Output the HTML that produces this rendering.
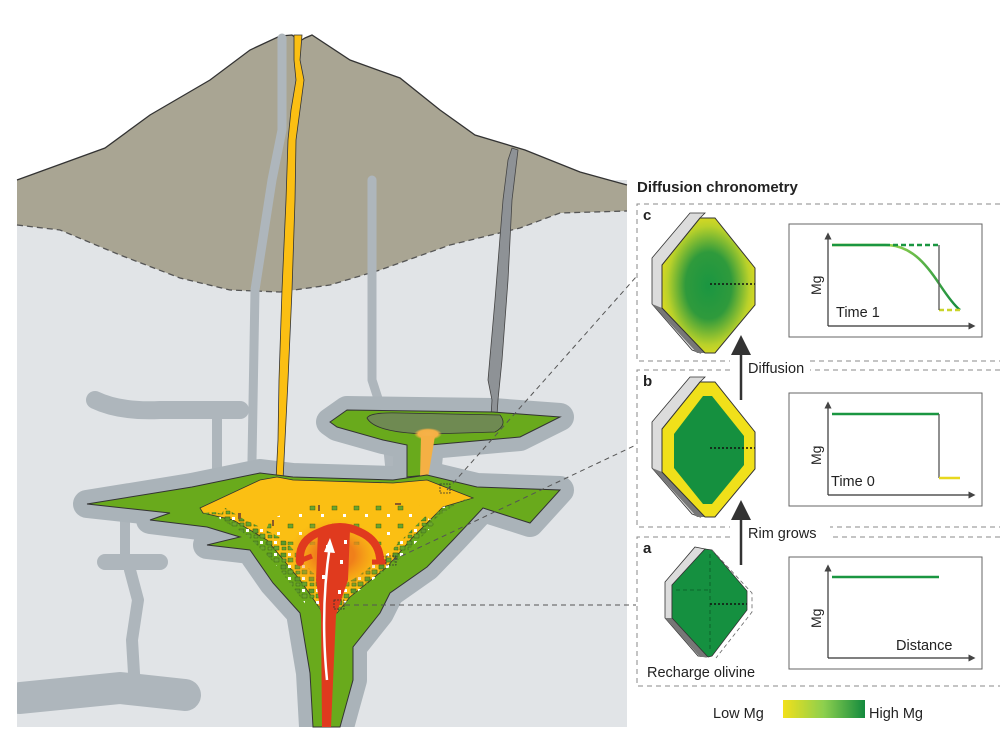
<!DOCTYPE html>
<html><head><meta charset="utf-8"><style>
html,body{margin:0;padding:0;background:#fff}
svg{display:block}
text{font-family:"Liberation Sans",sans-serif}
</style></head><body>
<svg width="1000" height="738" viewBox="0 0 1000 738" xmlns="http://www.w3.org/2000/svg">
<defs>
<radialGradient id="cg" cx="0.5" cy="0.5" r="0.55">
<stop offset="0" stop-color="#1a9641"/><stop offset="0.45" stop-color="#2f9a3c"/><stop offset="0.8" stop-color="#b9d12a"/><stop offset="1" stop-color="#e8dc1e"/></radialGradient>
<linearGradient id="lg" x1="0" x2="1"><stop offset="0" stop-color="#f2e01a"/><stop offset="0.5" stop-color="#8ccf4e"/><stop offset="1" stop-color="#138a3e"/></linearGradient>
<radialGradient id="og" cx="0.5" cy="0.5" r="0.5"><stop offset="0" stop-color="#f6b24a"/><stop offset="0.7" stop-color="#f5b044"/><stop offset="1" stop-color="#f5b044" stop-opacity="0"/></radialGradient>
<radialGradient id="rg" cx="0.5" cy="0.5" r="0.5"><stop offset="0.4" stop-color="#f0801a"/><stop offset="1" stop-color="#f5a01a" stop-opacity="0"/></radialGradient>
<pattern id="xt" width="14" height="12" patternUnits="userSpaceOnUse">
<rect x="1" y="1" width="5" height="4" fill="#5e9a2a" stroke="#2c5010" stroke-width="0.4"/>
<rect x="8" y="6" width="5" height="4" fill="#6aa52c" stroke="#2c5010" stroke-width="0.4"/>
<rect x="8" y="1" width="3" height="3" fill="#fff"/>
<rect x="2" y="7" width="4" height="3" fill="#6aa52c" stroke="#2c5010" stroke-width="0.4"/>
</pattern>
<pattern id="xs" width="22" height="18" patternUnits="userSpaceOnUse">
<rect x="2" y="2" width="5" height="4" fill="#6aa52c" stroke="#2c5010" stroke-width="0.4"/>
<rect x="13" y="10" width="3" height="3" fill="#fff"/>
</pattern>
<marker id="ah" markerWidth="8" markerHeight="8" refX="4" refY="4" orient="auto"><path d="M0,0 L8,4 L0,8 z" fill="#333"/></marker>
<marker id="ah2" markerWidth="6" markerHeight="6" refX="3" refY="3" orient="auto"><path d="M0,0 L6,3 L0,6 z" fill="#444"/></marker>
</defs>

<rect x="17" y="180" width="610" height="547" fill="#e1e4e7"/>
<path d="M17,180 L105,148 L150,115 L210,80 L250,50 L280,36 L292,35 L300,41 L305,38 L312,35 L350,60 L400,78 L440,110 L475,135 L525,150 L580,172 L627,185 L627,211 L560,213 L520,228 L450,245 L380,270 L330,285 L280,292 L230,290 L180,278 L120,255 L60,230 L17,225 Z" fill="#a9a593" stroke="none"/>
<path d="M17,180 L105,148 L150,115 L210,80 L250,50 L280,36 L292,35 L300,41 L305,38 L312,35 L350,60 L400,78 L440,110 L475,135 L525,150 L580,172 L627,185" fill="none" stroke="#333" stroke-width="1.3"/>
<path d="M17,225 L60,230 L120,255 L180,278 L230,290 L280,292 L330,285 L380,270 L450,245 L520,228 L560,213 L627,211" fill="none" stroke="#555" stroke-width="1.3" stroke-dasharray="6,4"/>

<g fill="none" stroke="#aeb6bc" stroke-linecap="round" stroke-linejoin="round">
<path d="M282,38 L282,130 L272,180 L255,290 L252,460 L255,500" stroke-width="9"/>
<path d="M372,180 L372,380 L385,420 L390,470" stroke-width="9"/>
<path d="M95,400 Q120,412 160,410 L240,410" stroke-width="18"/>
<path d="M217,413 L217,470" stroke-width="10"/>
<path d="M125,520 L125,565" stroke-width="10"/>
<path d="M105,562 L160,562" stroke-width="16"/>
<path d="M130,570 L138,600 L132,640 L135,690" stroke-width="12"/>
<path d="M20,698 L120,688 L185,695" stroke-width="32"/>
</g>
<path d="M330,422 L347,410 L493,412 L560,417 L540,427 L520,437 L430,445 L427,475 L407,477 L407,445 L383,440 L337,427 Z" fill="#aab3b9" stroke="#aab3b9" stroke-width="28" stroke-linejoin="round"/>
<path d="M87,504 L192,487 L260,473 L293,477 L393,480 L427,475 L477,487 L560,490 L530,523 L483,508 L453,540 L427,567 L390,593 L380,613 L353,647 L353,680 L340,727 L313,727 L310,673 L300,613 L273,583 L250,550 L207,545 L240,537 L207,527 L150,520 L170,513 Z" fill="#aab3b9" stroke="#aab3b9" stroke-width="28" stroke-linejoin="round"/>
<rect x="0" y="727" width="627" height="11" fill="#fff"/>
<rect x="0" y="380" width="17" height="358" fill="#fff"/>

<path d="M294,35 L302,35 L300,60 L304,80 L300,110 L296,140 L295,200 L292,290 L288,380 L285,440 L283,480 L276,480 L278,440 L279,380 L282,290 L286,200 L288,140 L291,110 L296,80 L294,60 Z" fill="#fbbf13" stroke="#333" stroke-width="0.8"/>
<path d="M512,148 L518,150 L512,200 L508,280 L502,360 L498,400 L496,430 L490,432 L492,400 L488,380 L495,300 L503,200 L508,160 Z" fill="#8e9296" stroke="#444" stroke-width="0.8"/>

<path d="M330,422 L347,410 L493,412 L560,417 L540,427 L520,437 L430,445 L427,475 L407,477 L407,445 L383,440 L337,427 Z" fill="#69aa1c" stroke="#333" stroke-width="1"/>
<path d="M367,418 Q370,412 400,413 L500,415 Q508,425 495,432 L430,434 Q375,433 367,418 Z" fill="#6f8a52" stroke="#333" stroke-width="0.8"/>
<ellipse cx="428" cy="434" rx="14" ry="6" fill="url(#og)"/>
<path d="M421,436 L435,436 L428,478 L420,478 Z" fill="#f5b044"/>

<path d="M87,504 L192,487 L260,473 L293,477 L393,480 L427,475 L477,487 L560,490 L530,523 L483,508 L453,540 L427,567 L390,593 L380,613 L353,647 L353,680 L340,727 L313,727 L310,673 L300,613 L273,583 L250,550 L207,545 L240,537 L207,527 L150,520 L170,513 Z" fill="#69aa1c" stroke="#333" stroke-width="1"/>
<path d="M200,508 L260,480 L277,477 L293,480 L393,483 L427,480 L473,498 L443,507 L413,537 L387,567 L350,597 L337,613 L323,613 L300,580 L267,540 L233,520 L203,513 Z" fill="#fbbf13" stroke="#333" stroke-width="0.8"/>
<!-- sparse crystals -->
<path d="M270,520 Q330,490 420,505 L400,545 L260,545 Z" fill="url(#xs)"/>
<!-- crystal mush band -->
<path d="M203,513 L233,520 L267,540 L300,580 L323,613 L337,613 L350,597 L387,567 L413,537 L443,507 L473,498 L462,500 L440,515 L400,548 L360,575 L335,590 L312,572 L285,540 L250,522 L215,512 Z" fill="url(#xt)"/>
<path d="M222,513 L250,530 L280,560 L310,600 M350,590 L395,555 L430,520" fill="none" stroke="url(#xt)" stroke-width="12"/>
<!-- red plume -->
<ellipse cx="335" cy="555" rx="48" ry="36" fill="url(#rg)"/>
<path d="M300,562 Q298,540 320,532 Q340,522 360,532 Q378,540 380,558" fill="none" stroke="#e03a1e" stroke-width="8" stroke-linecap="round"/>
<path d="M318,532 L350,530 L348,580 L336,615 L331,727 L322,727 L321,615 L316,580 Z" fill="#e03a1e"/>
<path d="M302,560 L312,556 M372,562 L386,562" stroke="#e03a1e" stroke-width="5"/>
<g fill="#fff"><rect x="326" y="545" width="3" height="4"/><rect x="340" y="560" width="3" height="4"/><rect x="322" y="575" width="3" height="4"/><rect x="338" y="590" width="3" height="4"/><rect x="344" y="540" width="3" height="4"/></g>
<path d="M327,680 Q320,610 330,545" fill="none" stroke="#fff" stroke-width="2.5"/>
<path d="M324,552 L330,538 L335,553 Z" fill="#fff"/>
<g fill="#8a5a2a"><rect x="272" y="520" width="2" height="6"/><rect x="318" y="505" width="2" height="6"/><rect x="395" y="503" width="6" height="2"/><rect x="238" y="513" width="3" height="6"/></g>

<g stroke="#555" stroke-width="1" stroke-dasharray="5,4" fill="none">
<path d="M447,490 L636,277"/>
<path d="M393,560 L636,445"/>
<path d="M345,605 L636,605"/>
</g>
<rect x="440" y="484" width="10" height="9" fill="none" stroke="#333" stroke-width="0.8" stroke-dasharray="2,1"/>
<rect x="386" y="556" width="10" height="9" fill="none" stroke="#333" stroke-width="0.8" stroke-dasharray="2,1"/>
<rect x="334" y="600" width="10" height="9" fill="none" stroke="#333" stroke-width="0.8" stroke-dasharray="2,1"/>

<text x="637" y="192" font-size="15" font-weight="bold" fill="#222">Diffusion chronometry</text>
<g stroke="#888" stroke-width="1" stroke-dasharray="5,4" fill="none">
<path d="M1000,204 L637,204 L637,361 L1000,361"/>
<path d="M1000,370 L637,370 L637,527 L1000,527"/>
<path d="M1000,537 L637,537 L637,686 L1000,686"/>
</g>
<rect x="730" y="355" width="80" height="20" fill="#fff"/>
<rect x="730" y="520" width="100" height="24" fill="#fff"/>
<text x="643" y="220" font-size="15" font-weight="bold" fill="#222">c</text>
<text x="643" y="386" font-size="15" font-weight="bold" fill="#222">b</text>
<text x="643" y="553" font-size="15" font-weight="bold" fill="#222">a</text>

<g>
<path d="M690,213 L705,213 L700,218 L662,265 L662,308 L700,353 L692,350 L652,304 L652,258 Z" fill="#dcdcdc" stroke="#333" stroke-width="0.8"/>
<path d="M652,304 L662,308 L705,353 L697,353 Z" fill="#777"/>
<path d="M700,218 L715,218 L755,268 L755,305 L715,353 L705,353 L662,308 L662,265 Z" fill="url(#cg)" stroke="#333" stroke-width="1"/>
<path d="M710,284 L755,284" stroke="#111" stroke-width="1.5" stroke-dasharray="2,2"/>
</g>
<g transform="translate(0,164)">
<path d="M690,213 L705,213 L700,218 L662,265 L662,308 L700,353 L692,350 L652,304 L652,258 Z" fill="#dcdcdc" stroke="#333" stroke-width="0.8"/>
<path d="M652,304 L662,308 L705,353 L697,353 Z" fill="#777"/>
<path d="M700,218 L715,218 L755,268 L755,305 L715,353 L705,353 L662,308 L662,265 Z" fill="#f0e01a" stroke="#333" stroke-width="1"/>
<path d="M703,232 L712,232 L744,272 L744,301 L712,340 L703,340 L674,304 L674,270 Z" fill="#15903f"/>
<path d="M710,284 L755,284" stroke="#111" stroke-width="1.5" stroke-dasharray="2,2"/>
</g>
<g>
<path d="M695,547 L705,549 L672,585 L672,618 L706,657 L698,656 L665,618 L665,582 Z" fill="#dcdcdc" stroke="#333" stroke-width="0.8"/>
<path d="M665,618 L672,618 L710,657 L700,657 Z" fill="#777"/>
<path d="M705,549 L712,550 L747,591 L747,610 L712,656 L708,657 L672,618 L672,585 Z" fill="#159040" stroke="#333" stroke-width="0.8"/>
<path d="M712,550 L752,593 L752,612 L716,658" fill="none" stroke="#666" stroke-width="0.8" stroke-dasharray="4,3"/>
<path d="M710,554 L710,652 M676,590 L710,590" fill="none" stroke="#0a5a25" stroke-width="0.8" stroke-dasharray="4,3"/>
<path d="M710,604 L747,604" stroke="#111" stroke-width="1.5" stroke-dasharray="2,2"/>
</g>
<text x="647" y="677" font-size="14.5" fill="#222">Recharge olivine</text>

<path d="M741,400 L741,345" stroke="#333" stroke-width="2.5" marker-end="url(#ah)"/>
<path d="M741,565 L741,510" stroke="#333" stroke-width="2.5" marker-end="url(#ah)"/>
<text x="748" y="373" font-size="14.5" fill="#222">Diffusion</text>
<text x="748" y="538" font-size="14.5" fill="#222">Rim grows</text>

<g fill="#fff" stroke="#666" stroke-width="1">
<rect x="789" y="224" width="193" height="113"/>
<rect x="789" y="393" width="193" height="113"/>
<rect x="789" y="557" width="193" height="112"/>
</g>
<g stroke="#333" stroke-width="1.2" fill="none" marker-end="url(#ah2)">
<path d="M828,326 L828,236"/><path d="M828,326 L972,326"/>
<path d="M828,495 L828,405"/><path d="M828,495 L972,495"/>
<path d="M828,658 L828,568"/><path d="M828,658 L972,658"/>
</g>
<path d="M832,245 L885,245 C910,245 925,262 940,285 C950,300 955,306 960,310" fill="none" stroke="url(#lg)" stroke-width="2.5"/>
<path d="M832,245 L885,245" stroke="#1a9641" stroke-width="2.5"/>
<path d="M885,245 L939,245" stroke="#1a9641" stroke-width="2.5" stroke-dasharray="5,3"/>
<path d="M939,310 L960,310" stroke="#c9d42a" stroke-width="2.5" stroke-dasharray="5,3"/>
<path d="M939,245 L939,310" stroke="#555" stroke-width="1.3"/>
<text x="0" y="0" font-size="14" fill="#222" transform="translate(821,295) rotate(-90)">Mg</text>
<text x="836" y="317" font-size="14.5" fill="#222">Time 1</text>
<path d="M832,414 L939,414" stroke="#1a9641" stroke-width="2.5"/>
<path d="M939,414 L939,478" stroke="#555" stroke-width="1.3"/>
<path d="M939,478 L960,478" stroke="#e8d81e" stroke-width="2.5"/>
<text x="0" y="0" font-size="14" fill="#222" transform="translate(821,465) rotate(-90)">Mg</text>
<text x="831" y="486" font-size="14.5" fill="#222">Time 0</text>
<path d="M832,577 L939,577" stroke="#1a9641" stroke-width="2.5"/>
<text x="0" y="0" font-size="14" fill="#222" transform="translate(821,628) rotate(-90)">Mg</text>
<text x="896" y="650" font-size="14.5" fill="#222">Distance</text>

<text x="713" y="718" font-size="14.5" fill="#222">Low Mg</text>
<rect x="783" y="700" width="82" height="18" fill="url(#lg)"/>
<text x="869" y="718" font-size="14.5" fill="#222">High Mg</text>
</svg>
</body></html>
